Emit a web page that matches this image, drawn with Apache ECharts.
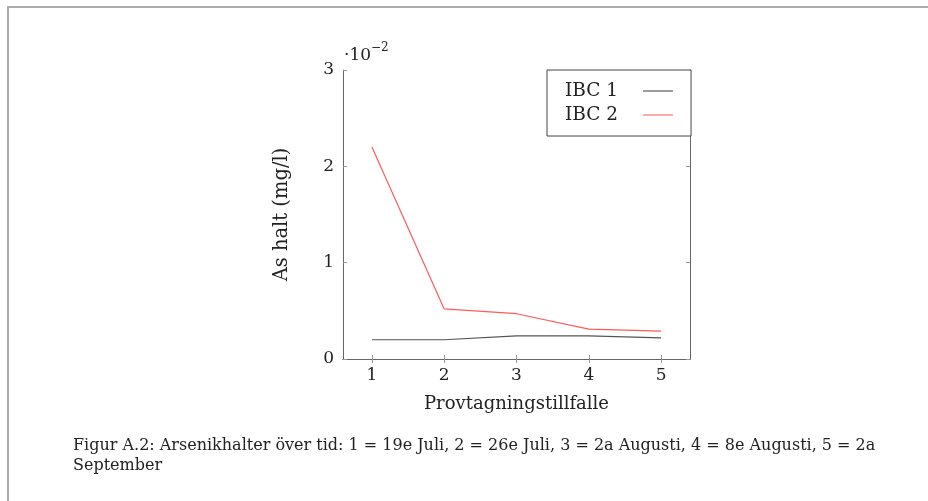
<!DOCTYPE html>
<html><head><meta charset="utf-8">
<script src="https://cdn.jsdelivr.net/npm/echarts@6/dist/echarts.min.js"></script>
<style>html,body{margin:0;padding:0;background:#fff}#c{width:928px;height:501px}</style>
</head><body><div id="c"></div>
<script>
const categories = [1, 2, 3, 4, 5];
const ibc1 = [0.20, 0.20, 0.24, 0.24, 0.22];
const ibc2 = [2.20, 0.52, 0.47, 0.31, 0.29];
const yTicks = [0, 1, 2, 3];
const seriesNames = ['IBC 1', 'IBC 2'];
const captionLine1 = 'Figur A.2: Arsenikhalter över tid: 1 = 19e Juli, 2 = 26e Juli, 3 = 2a Augusti, 4 = 8e Augusti, 5 = 2a';
const captionLine2 = 'September';

const FONT = 'DejaVu Serif';
const chart = echarts.init(document.getElementById('c'));
const axisLine = {show: true, lineStyle: {color: '#666', width: 1}};
const tick = {show: true, inside: true, length: 4, lineStyle: {color: '#999'}};
chart.setOption({
  animation: false,
  grid: {left: 343, top: 70, width: 347, height: 289, show: false},
  xAxis: [
    {type: 'value', min: 0.6, max: 5.4, position: 'bottom', axisLine: axisLine,
     axisTick: Object.assign({}, tick, {customValues: categories}),
     axisLabel: {customValues: categories, color: '#222', fontFamily: FONT, fontSize: 17, margin: 8},
     splitLine: {show: false},
     name: 'Provtagningstillfalle', nameLocation: 'middle', nameGap: 36,
     nameTextStyle: {color: '#222', fontFamily: FONT, fontSize: 18}},
    {type: 'value', min: 0.6, max: 5.4, position: 'top', axisLine: axisLine,
     axisTick: Object.assign({}, tick, {customValues: categories}),
     axisLabel: {show: false}, splitLine: {show: false}}
  ],
  yAxis: [
    {type: 'value', min: 0, max: 3, position: 'left', axisLine: axisLine,
     axisTick: Object.assign({}, tick, {customValues: yTicks}),
     axisLabel: {customValues: yTicks, color: '#222', fontFamily: FONT, fontSize: 17, margin: 9},
     splitLine: {show: false},
     name: 'As halt (mg/l)', nameLocation: 'middle', nameGap: 51, nameRotate: 90,
     nameTextStyle: {color: '#222', fontFamily: FONT, fontSize: 19.5}},
    {type: 'value', min: 0, max: 3, position: 'right', axisLine: axisLine,
     axisTick: Object.assign({}, tick, {customValues: yTicks}),
     axisLabel: {show: false}, splitLine: {show: false}}
  ],
  legend: {
    data: seriesNames, orient: 'vertical', left: 547, top: 70,
    align: 'right', icon: 'rect', itemWidth: 30, itemHeight: 1.3, itemGap: 4,
    borderColor: '#444', borderWidth: 1, padding: [11, 18, 11, 18], backgroundColor: '#fff',
    textStyle: {color: '#222', fontFamily: FONT, fontSize: 18.5, lineHeight: 20, padding: [0, 20, 0, 0]}
  },
  series: [
    {name: seriesNames[0], type: 'line', data: categories.map((c, i) => [c, ibc1[i]]),
     symbol: 'none', lineStyle: {color: '#555', width: 1.2}, itemStyle: {color: '#666'}},
    {name: seriesNames[1], type: 'line', data: categories.map((c, i) => [c, ibc2[i]]),
     symbol: 'none', lineStyle: {color: '#ff5a5a', width: 1.2}, itemStyle: {color: '#ff7a7a'}}
  ],
  graphic: [
    {type: 'polyline', shape: {points: [[8, 501], [8, 7], [928, 7]]},
     style: {stroke: '#aaa', lineWidth: 2, fill: null}},
    {type: 'text', left: 344, top: 42,
     style: {text: '{a|·10}{b|−2}', rich: {
       a: {fontFamily: FONT, fontSize: 17, fill: '#222', verticalAlign: 'bottom'},
       b: {fontFamily: FONT, fontSize: 12, fill: '#222', verticalAlign: 'top', padding: [0, 0, 10, 0]}}}},
    {type: 'text', left: 73, top: 438,
     style: {text: captionLine1, fontFamily: FONT, fontSize: 16, fill: '#222'}},
    {type: 'text', left: 73, top: 458,
     style: {text: captionLine2, fontFamily: FONT, fontSize: 16, fill: '#222'}}
  ]
});
</script></body></html>
